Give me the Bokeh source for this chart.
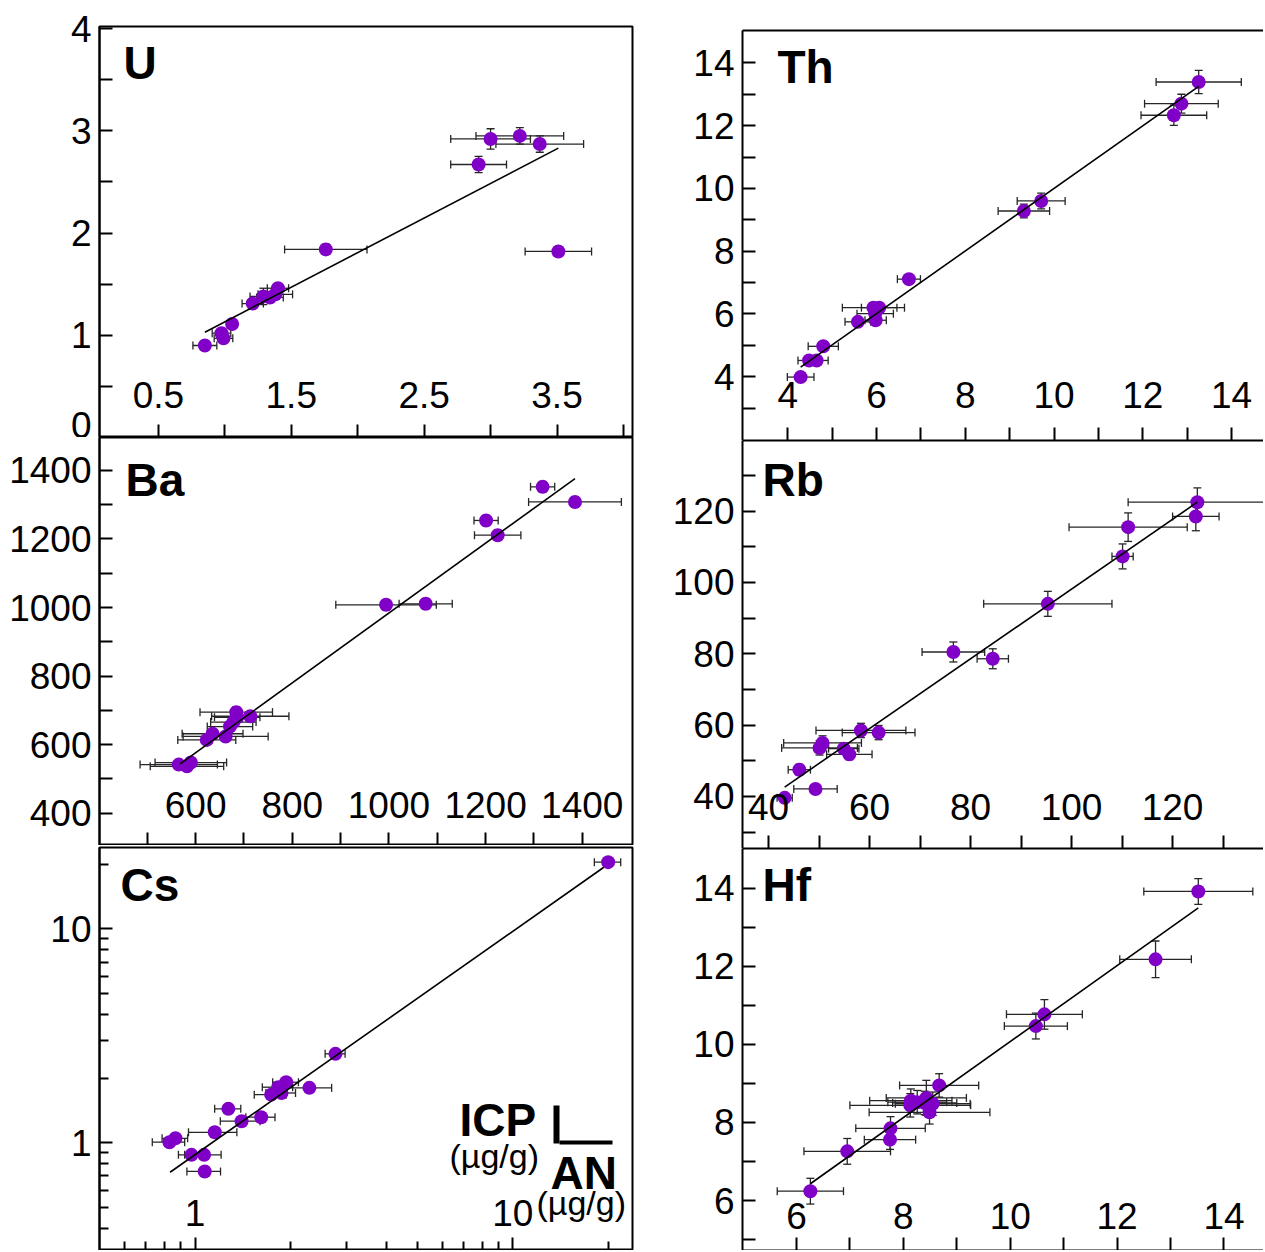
from bokeh.plotting import figure
from bokeh.models import (Range1d, FixedTicker, BasicTickFormatter, Whisker, TeeHead,
                          ColumnDataSource, Label, LinearAxis, BoxAnnotation)
from bokeh.layouts import row, column
from bokeh.embed import file_html
from bokeh.resources import INLINE

# ---------------- data (AN = x, ICP = y, values in µg/g) ----------------
U_an = [0.85, 0.975, 0.99, 1.055, 1.21, 1.29, 1.34, 1.38, 1.40, 1.76, 2.91, 3.00, 3.22, 3.37, 3.51]
U_icp = [0.90, 1.02, 0.97, 1.11, 1.31, 1.38, 1.37, 1.40, 1.46, 1.84, 2.67, 2.92, 2.95, 2.87, 1.82]
U_an_err = [0.09, 0.07, 0.07, 0.03, 0.08, 0.10, 0.10, 0.13, 0.08, 0.31, 0.21, 0.30, 0.33, 0.33, 0.25]
U_icp_err = [0.03, 0.04, 0.04, 0.04, 0.04, 0.08, 0.04, 0.05, 0.04, 0.05, 0.08, 0.10, 0.08, 0.08, 0.03]
U_fit_an = [0.85, 3.51]
U_fit_icp = [1.03, 2.83]

Th_an = [4.29, 4.48, 4.65, 4.80, 5.58, 5.98, 5.93, 6.06, 5.97, 6.73, 9.32, 9.71, 12.70, 12.87, 13.26]
Th_icp = [3.99, 4.52, 4.52, 4.97, 5.75, 5.80, 6.20, 6.20, 6.01, 7.11, 9.28, 9.60, 12.33, 12.70, 13.39]
Th_an_err = [0.30, 0.25, 0.26, 0.34, 0.29, 0.24, 0.70, 0.40, 0.41, 0.26, 0.58, 0.54, 0.74, 0.83, 0.96]
Th_icp_err = [0.08, 0.10, 0.10, 0.12, 0.12, 0.12, 0.15, 0.15, 0.12, 0.15, 0.22, 0.25, 0.32, 0.30, 0.37]
Th_fit_an = [4.29, 13.26]
Th_fit_icp = [4.31, 13.25]

Ba_an = [565, 582, 590, 623, 635, 662, 671, 678, 684, 686, 713, 994, 1076, 1201, 1225, 1318, 1385]
Ba_icp = [542, 537, 548, 614, 632, 624, 653, 666, 695, 680, 683, 1008, 1011, 1254, 1211, 1352, 1308]
Ba_an_err = [80, 76, 74, 60, 63, 88, 47, 47, 75, 47, 80, 104, 55, 25, 48, 25, 96]
Ba_icp_err = [10, 10, 10, 12, 12, 12, 12, 12, 15, 12, 12, 15, 15, 15, 15, 15, 15]
Ba_fit_an = [568, 1385]
Ba_fit_icp = [544, 1376]

Rb_an = [43.2, 46.1, 49.3, 50.1, 50.7, 54.9, 56.0, 58.3, 61.8, 76.6, 84.4, 95.3, 110.1, 111.2, 124.6, 124.9]
Rb_icp = [39.6, 47.5, 42.1, 53.6, 55.0, 53.4, 51.8, 58.5, 57.9, 80.5, 78.6, 94.0, 107.3, 115.5, 118.5, 122.5]
Rb_an_err = [1.5, 2.2, 4.3, 7.5, 7.7, 3.0, 4.5, 8.9, 7.2, 6.2, 3.1, 12.7, 2.1, 11.7, 4.6, 13.7]
Rb_icp_err = [1.0, 1.5, 1.2, 2.0, 2.0, 1.5, 1.5, 2.0, 2.0, 2.8, 2.8, 3.5, 3.5, 4.0, 4.0, 4.0]
Rb_fit_an = [43.2, 124.9]
Rb_fit_icp = [42.6, 122.5]

Cs_an = [0.83, 0.867, 0.974, 1.067, 1.072, 1.153, 1.272, 1.40, 1.614, 1.735, 1.827, 1.87, 1.934, 2.289, 2.765, 19.95]
Cs_icp = [1.007, 1.05, 0.879, 0.879, 0.735, 1.12, 1.442, 1.262, 1.318, 1.68, 1.82, 1.71, 1.92, 1.807, 2.606, 20.5]
Cs_an_err = [0.097, 0.08, 0.088, 0.14, 0.13, 0.20, 0.12, 0.20, 0.17, 0.20, 0.20, 0.20, 0.18, 0.40, 0.20, 1.9]
Cs_icp_err = [0.02, 0.03, 0.02, 0.02, 0.03, 0.03, 0.03, 0.03, 0.03, 0.04, 0.04, 0.04, 0.04, 0.04, 0.06, 0.5]
Cs_fit_an = [0.834, 19.34]
Cs_fit_icp = [0.729, 19.4]

Hf_an = [6.26, 6.95, 7.75, 7.76, 8.13, 8.14, 8.26, 8.43, 8.49, 8.55, 8.40, 8.67, 10.48, 10.64, 12.72, 13.52]
Hf_icp = [6.24, 7.26, 7.56, 7.85, 8.44, 8.56, 8.52, 8.63, 8.26, 8.48, 8.50, 8.95, 10.47, 10.77, 12.18, 13.92]
Hf_an_err = [0.62, 0.81, 0.48, 0.65, 1.13, 0.77, 0.55, 0.75, 1.13, 0.70, 0.60, 0.74, 0.59, 0.71, 0.67, 1.02]
Hf_icp_err = [0.33, 0.33, 0.25, 0.30, 0.30, 0.30, 0.30, 0.45, 0.30, 0.30, 0.30, 0.30, 0.33, 0.38, 0.47, 0.33]
Hf_fit_an = [6.26, 13.52]
Hf_fit_icp = [6.43, 13.50]

# tick layouts (labelled = major, unlabelled = minor)
U_xmaj = [0.5, 1.5, 2.5, 3.5];             U_xmin = [1.0, 2.0, 3.0, 4.0]
U_ymaj = [0, 1, 2, 3, 4];                  U_ymin = [0.5, 1.5, 2.5, 3.5]
Th_xmaj = [4, 6, 8, 10, 12, 14];           Th_xmin = [5, 7, 9, 11, 13]
Th_ymaj = [4, 6, 8, 10, 12, 14];           Th_ymin = [3, 5, 7, 9, 11, 13]
Ba_xmaj = [600, 800, 1000, 1200, 1400];    Ba_xmin = [500, 700, 900, 1100, 1300]
Ba_ymaj = [400, 600, 800, 1000, 1200, 1400]; Ba_ymin = [500, 700, 900, 1100, 1300]
Rb_xmaj = [40, 60, 80, 100, 120];          Rb_xmin = [50, 70, 90, 110, 130]
Rb_ymaj = [40, 60, 80, 100, 120];          Rb_ymin = [30, 50, 70, 90, 110, 130]
Cs_xmaj = [1, 10];  Cs_xmin = [0.6, 0.7, 0.8, 0.9, 2, 3, 4, 5, 6, 7, 8, 9, 20]
Cs_ymaj = [1, 10];  Cs_ymin = [0.4, 0.5, 0.6, 0.7, 0.8, 0.9, 2, 3, 4, 5, 6, 7, 8, 9, 20]
Hf_xmaj = [6, 8, 10, 12, 14];              Hf_xmin = [7, 9, 11, 13]
Hf_ymaj = [6, 8, 10, 12, 14];              Hf_ymin = [5, 7, 9, 11, 13]

PURPLE = "#8000C8"
ERR = "#262626"
FONT = "Liberation Sans"
TICK_FS = "37px"


def panel(name, an, icp, an_err, icp_err, fit_an, fit_icp, xr, yr,
          xmaj, xmin, ymaj, ymin, fw, fh, bl, br, bt, x_standoff,
          log=False, right=False, name_xy=(20, 350)):
    p = figure(x_range=Range1d(*xr), y_range=Range1d(*yr),
               x_axis_type="log" if log else "linear",
               y_axis_type="log" if log else "linear",
               frame_width=fw, frame_height=fh,
               min_border_left=bl, min_border_right=br, min_border_top=bt,
               min_border_bottom=0, toolbar_location=None, tools="",
               output_backend="svg", background_fill_color="white",
               border_fill_color="white")
    p.grid.visible = False
    xa, ya = p.below[0], p.left[0]
    for ax, maj, mn in ((xa, xmaj, xmin), (ya, ymaj, ymin)):
        ax.ticker = FixedTicker(ticks=maj, minor_ticks=mn)
        ax.formatter = BasicTickFormatter()
        ax.axis_line_width = 2
        ax.axis_line_color = "black"
        ax.major_tick_line_width = 2
        ax.minor_tick_line_width = 2
        ax.major_tick_in = 13
        ax.major_tick_out = 0
        ax.minor_tick_in = 9 if log else 13
        ax.minor_tick_out = 0
        ax.major_label_text_font = FONT
        ax.major_label_text_font_size = TICK_FS
        ax.major_label_text_color = "black"
    ya.major_label_standoff = 8
    xa.major_label_standoff = x_standoff
    if right:
        p.outline_line_color = None
        top = LinearAxis(ticker=FixedTicker(ticks=[]), major_tick_line_color=None,
                         minor_tick_line_color=None, major_label_text_font_size="0px",
                         axis_line_width=2, axis_line_color="black")
        p.add_layout(top, "above")
    else:
        p.outline_line_color = "black"
        p.outline_line_width = 2

    src = ColumnDataSource(dict(
        an=an, icp=icp,
        an_lo=[a - e for a, e in zip(an, an_err)], an_hi=[a + e for a, e in zip(an, an_err)],
        icp_lo=[c - e for c, e in zip(icp, icp_err)], icp_hi=[c + e for c, e in zip(icp, icp_err)],
    ))
    p.scatter("an", "icp", source=src, size=14, fill_color=PURPLE, line_color=None)
    p.line(fit_an, fit_icp, line_color="black", line_width=1.6)
    for base, lo, hi, dim in (("icp", "an_lo", "an_hi", "width"), ("an", "icp_lo", "icp_hi", "height")):
        p.add_layout(Whisker(source=src, base=base, lower=lo, upper=hi, dimension=dim,
                             line_color=ERR, line_width=1.3,
                             lower_head=TeeHead(size=8, line_color=ERR, line_width=1.3),
                             upper_head=TeeHead(size=8, line_color=ERR, line_width=1.3)))
    p.add_layout(Label(x=name_xy[0], y=name_xy[1], x_units="screen", y_units="screen",
                       text=name, text_font=FONT, text_font_size="46px",
                       text_font_style="bold", text_baseline="alphabetic",
                       text_color="black"))
    return p


LW, LFW, LR = 99, 533, 30
RW, RFW = 80, 521

pU = panel("U", U_an, U_icp, U_an_err, U_icp_err, U_fit_an, U_fit_icp,
           (0.057, 4.068), (0.0, 4.02), U_xmaj, U_xmin, U_ymaj, U_ymin,
           LFW, 411, LW, LR, 26, -56, name_xy=(24, 375))
pBa = panel("Ba", Ba_an, Ba_icp, Ba_an_err, Ba_icp_err, Ba_fit_an, Ba_fit_icp,
            (401, 1504), (306, 1496), Ba_xmaj, Ba_xmin, Ba_ymaj, Ba_ymin,
            LFW, 408, LW, LR, 0, -54, name_xy=(26, 366))
pCs = panel("Cs", Cs_an, Cs_icp, Cs_an_err, Cs_icp_err, Cs_fit_an, Cs_fit_icp,
            (0.5, 23.8), (0.314, 24.0), Cs_xmaj, Cs_xmin, Cs_ymaj, Cs_ymin,
            LFW, 403, LW, LR, 2, -51, log=True, name_xy=(21, 366))

pTh = panel("Th", Th_an, Th_icp, Th_an_err, Th_icp_err, Th_fit_an, Th_fit_icp,
            (2.98, 14.72), (1.97, 15.03), Th_xmaj, Th_xmin, Th_ymaj, Th_ymin,
            RFW, 410, RW, 0, 30, -59, right=True, name_xy=(35, 374))
pRb = panel("Rb", Rb_an, Rb_icp, Rb_an_err, Rb_icp_err, Rb_fit_an, Rb_fit_icp,
            (34.85, 138.0), (25.4, 139.8), Rb_xmaj, Rb_xmin, Rb_ymaj, Rb_ymin,
            RFW, 408, RW, 0, 0, -55, right=True, name_xy=(20, 369))
pHf = panel("Hf", Hf_an, Hf_icp, Hf_an_err, Hf_icp_err, Hf_fit_an, Hf_fit_icp,
            (4.99, 14.74), (4.72, 15.02), Hf_xmaj, Hf_xmin, Hf_ymaj, Hf_ymin,
            RFW, 402, RW, 0, 0, -48, right=True, name_xy=(20, 366))

# axis legend in the Cs panel: ICP (µg/g) |__ AN (µg/g)
for txt, x, y, fs, st in (("ICP", 360, 131, "46px", "bold"), ("(µg/g)", 350, 95, "34px", "normal"),
                          ("AN", 451, 78, "46px", "bold"), ("(µg/g)", 437, 48, "34px", "normal")):
    pCs.add_layout(Label(x=x, y=y, x_units="screen", y_units="screen", text=txt,
                         text_font=FONT, text_font_size=fs, text_font_style=st,
                         text_baseline="alphabetic", text_color="black"))
pCs.add_layout(BoxAnnotation(left=454, right=460, bottom=107, top=145,
                             left_units="screen", right_units="screen",
                             bottom_units="screen", top_units="screen",
                             fill_color="black", fill_alpha=1, line_color=None))
pCs.add_layout(BoxAnnotation(left=460, right=513, bottom=106, top=110,
                             left_units="screen", right_units="screen",
                             bottom_units="screen", top_units="screen",
                             fill_color="black", fill_alpha=1, line_color=None))

layout = row(column(pU, pBa, pCs), column(pTh, pRb, pHf))
open("out.html", "w").write(file_html(layout, INLINE))
